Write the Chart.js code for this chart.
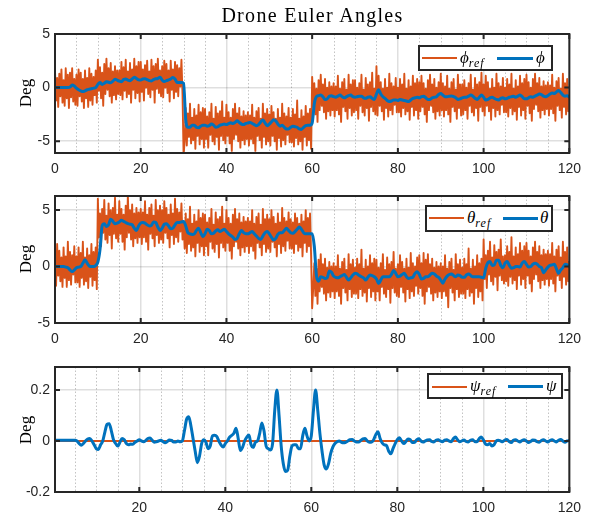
<!DOCTYPE html>
<html>
<head>
<meta charset="utf-8">
<script src="https://cdn.jsdelivr.net/npm/chart.js@4/dist/chart.umd.min.js"></script>
<style>
  html, body { margin: 0; padding: 0; background: #ffffff; }
  #fig { position: relative; width: 589px; height: 517px; overflow: hidden; background: #fff; }
  canvas { position: absolute; left: 0; }
  .serif { font-family: 'Liberation Serif', 'DejaVu Serif', serif; color: #000; position: absolute; white-space: nowrap; }
  .title { left: 55px; width: 515px; top: 4px; text-align: center; font-size: 20px; line-height: 22px; letter-spacing: 1.3px; }
  .ylab { font-size: 17px; line-height: 17px; transform: translate(-50%, -50%) rotate(-90deg); }
  .legbox { position: absolute; box-sizing: border-box; border: 2px solid #262626; background: #fff; }
  .lline { position: absolute; }
  .ltxt { font-family: 'Liberation Serif', 'DejaVu Serif', serif; font-style: italic; font-size: 17px; line-height: 17px; position: absolute; white-space: nowrap; color: #000; }
  .ltxt sub { font-size: 12px; vertical-align: -4px; letter-spacing: 1px; }
</style>
</head>
<body>
<div id="fig">
  <canvas id="c1" width="589" height="180" style="top:0px"></canvas>
  <canvas id="c2" width="589" height="170" style="top:180px"></canvas>
  <canvas id="c3" width="589" height="167" style="top:350px"></canvas>

  <div class="serif title">Drone Euler Angles</div>
  <div class="serif ylab" style="left:25px; top:93px">Deg</div>
  <div class="serif ylab" style="left:25px; top:259px">Deg</div>
  <div class="serif ylab" style="left:25px; top:430px">Deg</div>

  <div class="legbox" style="left:418px; top:45px; width:135px; height:26px"></div>
  <div class="lline" style="left:422px; top:57px; width:35px; height:2px; background:#D95319"></div>
  <div class="ltxt" style="left:460px; top:49px">&#981;<sub>ref</sub></div>
  <div class="lline" style="left:497px; top:56.5px; width:36px; height:3px; background:#0072BD"></div>
  <div class="ltxt" style="left:536px; top:49px">&#981;</div>

  <div class="legbox" style="left:425px; top:205px; width:128px; height:27px"></div>
  <div class="lline" style="left:429px; top:217px; width:35px; height:2px; background:#D95319"></div>
  <div class="ltxt" style="left:467px; top:209px">&theta;<sub>ref</sub></div>
  <div class="lline" style="left:503px; top:216.5px; width:35px; height:3px; background:#0072BD"></div>
  <div class="ltxt" style="left:540px; top:209px">&theta;</div>

  <div class="legbox" style="left:427px; top:373px; width:136px; height:26px"></div>
  <div class="lline" style="left:432px; top:385.5px; width:35px; height:2px; background:#D95319"></div>
  <div class="ltxt" style="left:470px; top:377px">&psi;<sub>ref</sub></div>
  <div class="lline" style="left:508px; top:385px; width:35px; height:3px; background:#0072BD"></div>
  <div class="ltxt" style="left:546px; top:377px">&psi;</div>
</div>

<script>
// ---------------- DATA ----------------
// reference signals sampled every 0.25 s, responses every 0.5 s (t = 0 ... 120 s)
const REF_STEP = 0.25;
const MAIN_STEP = 0.5;

const phiRef = [
  1.6, -1.2, 0.9, -1.8, 1.3, -0.8, 1.7, -1.4, 0.7, -1.7, 1.8, -1.0, 1.2, -1.9, 1.4, -0.9, 1.8, -1.3, 0.8, -1.6,
  1.2, -1.7, 1.7, -0.8, 1.4, -1.3, 0.8, -1.9, 1.6, -1.0, 0.9, -1.8, 1.8, -1.2, 1.3, -1.6, 1.0, -0.7, 1.6, -1.4,
  2.6, -0.3, 1.9, -1.0, 1.4, -1.7, 2.2, -0.6, 2.7, -0.2, 1.8, -0.8, 2.3, -1.4, 1.5, -0.7, 2.0, -1.1, 1.6, -0.6,
  1.6, -0.7, 2.4, -1.1, 1.9, -0.3, 2.6, -0.9, 1.5, -0.6, 2.3, -1.4, 1.7, -0.2, 2.7, -1.0, 2.0, -0.5, 2.4, -1.3,
  2.4, -0.4, 1.7, -1.2, 2.1, 0.0, 2.5, -0.6, 1.5, -0.9, 2.6, -0.2, 2.0, -1.4, 2.2, -0.1, 2.7, -0.5, 1.6, -0.8,
  2.0, -0.9, 2.5, 0.0, 2.2, -0.5, 1.6, -1.3, 2.5, -0.2, 1.7, -1.0, 2.4, -0.4, 2.1, -0.8, 1.8, 0.1, 2.6, -0.6,
  -6.3, -5.0, -1.9, -5.4, -2.4, -4.6, -1.5, -5.2, -2.8, -4.9, -2.0, -5.7, -2.6, -4.5, -1.6, -5.3, -2.3, -4.8, -1.9, -5.6,
  -2.0, -4.8, -2.7, -5.6, -2.3, -4.4, -1.5, -5.0, -2.9, -5.3, -1.8, -4.6, -2.4, -5.8, -2.2, -4.5, -1.3, -4.9, -2.8, -5.2,
  -1.6, -4.5, -2.3, -5.2, -2.8, -5.9, -2.0, -4.8, -1.5, -4.4, -2.4, -5.0, -1.9, -5.6, -2.7, -4.9, -2.2, -5.3, -2.6, -4.8,
  -2.3, -5.4, -2.6, -4.8, -1.6, -5.2, -2.8, -5.9, -2.2, -4.5, -1.9, -4.9, -2.9, -5.6, -1.5, -4.6, -2.4, -5.3, -2.0, -5.0,
  -2.5, -5.4, -1.7, -4.5, -2.3, -5.0, -2.9, -5.8, -2.0, -4.7, -2.8, -5.5, -1.5, -4.9, -2.4, -5.3, -2.7, -4.4, -1.9, -5.1,
  -2.8, -5.1, -2.0, -5.5, -2.5, -4.7, -1.2, -5.3, -2.9, -5.0, -2.1, -5.8, -2.7, -4.6, -1.7, -5.4, -2.4, -4.9, -2.0, -5.7,
  1.0, -1.8, 0.4, -2.5, -0.1, -3.2, 0.7, -2.1, 1.2, -1.7, 0.3, -2.3, 0.8, -2.9, 0.0, -2.2, 0.5, -2.6, 0.1, -2.1,
  0.4, -2.7, 0.1, -2.1, 1.1, -2.5, -0.1, -3.2, 0.5, -1.8, 0.8, -2.2, -0.2, -2.9, 1.2, -1.9, 0.3, -2.6, 0.7, -2.3,
  0.7, -2.1, 0.0, -2.9, 0.4, -1.7, 1.2, -2.3, -0.2, -2.6, 0.9, -1.9, 0.3, -3.1, 0.5, -1.8, 1.4, -2.2, -0.1, -2.5,
  2.0, -2.6, 1.1, -1.7, 0.5, -2.2, -0.1, -3.0, 0.8, -1.9, 0.0, -2.7, 1.3, -2.1, 0.4, -2.5, 0.1, -1.6, 0.9, -2.3,
  0.0, -2.3, 0.8, -2.7, 0.3, -1.9, 1.3, -2.5, -0.1, -2.2, 0.7, -3.0, 0.1, -1.8, 1.1, -2.6, 0.4, -2.1, 0.8, -2.9,
  0.5, -2.2, 1.1, -1.8, 0.4, -2.5, -0.1, -3.2, 0.7, -2.1, 1.2, -1.7, 0.3, -2.3, 0.8, -2.9, 0.0, -2.2, 0.5, -2.6,
  1.3, -2.1, 0.4, -2.7, 0.1, -2.1, 1.1, -2.5, -0.1, -3.2, 0.5, -1.8, 0.8, -2.2, -0.2, -2.9, 1.2, -1.9, 0.3, -2.6,
  0.3, -2.5, 0.7, -2.1, 0.0, -2.9, 0.4, -1.7, 1.2, -2.3, -0.2, -2.6, 0.9, -1.9, 0.3, -3.1, 0.5, -1.8, 1.4, -2.2,
  0.3, -2.6, 1.1, -1.7, 0.5, -2.2, -0.1, -3.0, 0.8, -1.9, 0.0, -2.7, 1.3, -2.1, 0.4, -2.5, 0.1, -1.6, 0.9, -2.3,
  0.0, -2.3, 0.8, -2.7, 0.3, -1.9, 1.3, -2.5, -0.1, -2.2, 0.7, -3.0, 0.1, -1.8, 1.1, -2.6, 0.4, -2.1, 0.8, -2.9,
  1.2, -1.7, 0.5, -2.4, 0.0, -3.1, 0.8, -2.0, 1.3, -1.6, 0.4, -2.2, 0.9, -2.8, 0.1, -2.1, 0.6, -2.5, 0.2, -2.0,
  0.5, -2.6, 0.2, -2.0, 1.2, -2.4, 0.0, -3.1, 0.6, -1.7, 0.9, -2.1, -0.1, -2.8, 1.3, -1.8, 0.4, -2.5, 0.8, -2.2,
  -0.9
];

const phi = [
  0, 0, 0, 0, 0, 0, 0, 0.05, 0.25, 0.15,
  -0.05, -0.2, -0.3, -0.37, -0.3, -0.2, -0.15, -0.1, -0.05, 0.0,
  0.3, 0.47, 0.3, 0.4, 0.55, 0.5, 0.45, 0.6, 0.78, 0.7,
  0.6, 0.55, 0.75, 0.8, 0.7, 0.65, 0.8, 0.97, 0.85, 0.72,
  0.7, 0.8, 0.82, 0.75, 0.65, 0.62, 0.75, 0.82, 0.85, 0.97,
  0.7, 0.56, 0.65, 0.72, 0.8, 0.95, 0.8, 0.48, 0.47, 0.47,
  0.4, -3.0, -3.7, -3.7, -3.5, -3.5, -3.7, -3.75, -3.6, -3.5,
  -3.5, -3.6, -3.55, -3.4, -3.5, -3.7, -3.65, -3.5, -3.45, -3.4,
  -3.45, -3.35, -3.28, -3.35, -3.25, -3.1, -3.25, -3.4, -3.45, -3.35,
  -3.3, -3.25, -3.35, -3.45, -3.55, -3.45, -3.2, -3.03, -3.3, -3.55,
  -3.4, -3.2, -3.0, -3.1, -3.4, -3.6, -3.5, -3.7, -3.85, -3.85,
  -3.7, -3.6, -3.65, -3.7, -3.85, -3.9, -3.7, -3.55, -3.5, -3.5,
  -3.3, -1.5, -0.84, -0.75, -0.7, -0.85, -1.1, -1.05, -0.8, -0.75,
  -0.85, -0.9, -0.8, -0.7, -0.85, -0.95, -0.85, -0.75, -0.7, -0.85,
  -0.9, -0.85, -0.8, -0.8, -0.95, -1.0, -0.9, -0.85, -1.0, -1.1,
  -0.6, -0.2, -0.6, -0.85, -1.0, -1.2, -1.3, -1.25, -1.15, -1.15,
  -1.2, -1.1, -1.15, -1.2, -1.25, -1.3, -1.15, -1.0, -0.95, -0.9,
  -0.95, -0.85, -0.8, -0.95, -1.1, -1.1, -0.95, -0.9, -0.85, -0.65,
  -0.55, -0.7, -0.85, -0.85, -0.8, -0.78, -0.85, -0.95, -1.1, -1.05,
  -0.95, -0.9, -0.9, -0.8, -0.7, -0.8, -1.0, -1.1, -0.9, -0.7,
  -0.9, -1.15, -1.1, -0.95, -0.9, -1.0, -1.1, -1.15, -1.0, -0.95,
  -1.05, -1.0, -0.9, -0.85, -0.8, -0.9, -0.8, -0.7, -0.85, -1.05,
  -1.05, -0.95, -0.85, -0.9, -0.8, -0.7, -0.6, -0.65, -0.8, -0.85,
  -0.75, -0.6, -0.5, -0.55, -0.4, -0.28, -0.45, -0.7, -0.8, -0.75,
  -0.9
];

const thetaRef = [
  1.2, -1.7, 2.0, -0.8, 1.4, -1.3, 0.8, -1.8, 1.7, -1.0, 0.9, -1.8, 2.2, -1.2, 1.3, -1.6, 1.0, -0.7, 1.8, -1.4,
  0.9, -1.4, 1.7, -1.8, 1.2, -1.0, 2.2, -1.6, 0.8, -1.3, 1.6, -1.9, 1.0, -0.9, 2.0, -1.7, 1.3, -1.2, 1.7, -2.0,
  6.0, 2.6, 4.7, 1.8, 5.1, 3.0, 5.9, 2.4, 4.5, 2.1, 5.6, 2.8, 5.0, 1.6, 5.2, 2.9, 6.1, 2.5, 4.6, 2.2,
  5.8, 2.9, 5.1, 2.2, 4.6, 1.5, 5.4, 2.6, 6.3, 3.0, 5.0, 2.4, 5.5, 1.8, 4.7, 2.5, 5.2, 2.1, 4.8, 2.6,
  5.1, 2.0, 4.8, 2.6, 5.8, 2.2, 4.6, 1.5, 5.2, 2.9, 5.5, 2.5, 4.5, 1.8, 5.9, 2.8, 5.0, 2.1, 5.4, 2.4,
  5.0, 2.1, 5.8, 3.0, 5.2, 2.5, 4.6, 1.7, 5.5, 2.8, 4.7, 2.0, 6.0, 2.6, 5.1, 2.2, 4.8, 3.1, 5.6, 2.4,
  3.9, 1.6, 4.7, 1.2, 4.2, 2.0, 5.3, 1.4, 3.8, 1.7, 4.6, 0.9, 4.0, 2.1, 5.0, 1.3, 4.3, 1.8, 4.7, 1.0,
  4.6, 1.8, 3.9, 1.0, 4.3, 2.2, 5.1, 1.6, 3.7, 1.3, 4.8, 2.0, 4.2, 0.8, 4.4, 2.1, 5.3, 1.7, 3.8, 1.4,
  5.0, 2.1, 4.3, 1.4, 3.8, 0.7, 4.6, 1.8, 5.1, 2.2, 4.2, 1.6, 4.7, 1.0, 3.9, 1.7, 4.4, 1.3, 4.0, 1.8,
  4.3, 1.2, 4.0, 1.8, 5.0, 1.4, 3.8, 0.7, 4.4, 2.1, 4.7, 1.7, 3.7, 1.0, 5.1, 2.0, 4.2, 1.3, 4.6, 1.6,
  4.2, 1.3, 5.0, 2.2, 4.4, 1.7, 3.8, 0.9, 4.7, 2.0, 3.9, 1.2, 5.2, 1.8, 4.3, 1.4, 4.0, 2.3, 4.8, 1.6,
  4.2, 1.6, 3.9, 1.2, 4.7, 2.0, 4.3, 1.4, 3.8, 1.7, 4.6, 0.9, 4.0, 2.1, 5.0, 1.3, 4.3, 1.8, 4.7, 1.0,
  -3.7, -1.9, 0.3, -2.6, -0.2, -3.3, 0.6, -2.2, 1.1, -1.8, 0.2, -2.4, 0.7, -3.0, -0.1, -2.3, 0.4, -2.7, 0.0, -2.2,
  0.3, -2.8, 0.0, -2.2, 1.0, -2.6, -0.2, -3.3, 0.4, -1.9, 0.7, -2.3, -0.3, -3.0, 1.1, -2.0, 0.2, -2.7, 0.6, -2.4,
  -0.1, -2.4, 0.7, -2.8, 0.2, -2.0, 1.5, -2.6, -0.2, -2.3, 0.6, -3.1, 0.0, -1.9, 1.0, -2.7, 0.3, -2.2, 0.7, -3.0,
  0.6, -2.2, -0.1, -3.0, 0.3, -1.8, 1.1, -2.4, -0.3, -2.7, 0.8, -2.0, 0.2, -3.2, 0.4, -1.9, 1.3, -2.3, -0.2, -2.6,
  0.2, -2.7, 1.0, -1.8, 0.4, -2.3, -0.2, -3.1, 0.7, -2.0, -0.1, -2.8, 1.2, -2.2, 0.3, -2.6, 0.0, -1.7, 0.8, -2.4,
  1.0, -1.9, 0.3, -2.6, 1.2, -3.3, 0.6, -2.2, 1.1, -1.8, 0.2, -2.4, 0.7, -3.0, -0.1, -2.3, 0.4, -2.7, 0.0, -2.2,
  0.3, -2.8, 0.0, -2.2, 1.0, -2.6, -0.2, -3.6, 0.4, -1.9, 0.7, -2.3, -0.3, -3.0, 1.1, -2.0, 0.2, -2.7, 0.6, -2.4,
  -0.1, -2.4, 0.7, -2.8, 0.2, -2.0, 1.6, -2.6, -0.2, -2.3, 0.6, -3.3, 0.0, -1.9, 1.0, -2.7, 0.3, -2.2, 0.7, -3.0,
  2.4, -1.1, 1.0, -1.9, 1.4, -0.7, 2.2, -1.3, 0.8, -1.6, 1.9, -0.9, 1.3, -2.1, 1.5, -0.8, 2.4, -1.2, 0.9, -1.5,
  1.0, -1.3, 1.8, -1.7, 1.3, -0.9, 2.6, -1.5, 0.9, -1.2, 1.7, -2.0, 1.1, -0.8, 2.1, -1.6, 1.4, -1.1, 1.8, -1.9,
  2.1, -0.8, 1.4, -1.5, 0.9, -2.2, 1.7, -1.1, 2.2, -0.7, 1.3, -1.3, 1.8, -1.9, 1.0, -1.2, 1.5, -1.6, 1.1, -1.1,
  1.4, -1.7, 1.1, -1.1, 2.1, -1.5, 0.9, -2.2, 1.5, -0.8, 1.8, -1.2, 0.8, -1.9, 2.2, -0.9, 1.3, -1.6, 1.7, -1.3,
  0.5
];

const theta = [
  0, 0, 0, 0, 0, -0.05, -0.1, -0.3, -0.44, -0.3,
  -0.1, -0.05, 0, 0.3, 0.6, 0.3, 0.05, 0, 0, 0.1,
  0.4, 1.5, 3.6, 3.8, 3.55, 3.7, 4.2, 4.0, 3.8, 3.85,
  3.95, 4.1, 4.0, 3.9, 3.8, 3.75, 3.7, 3.4, 3.2, 3.6,
  3.85, 3.9, 3.85, 3.7, 3.6, 3.65, 3.95, 3.9, 3.5, 3.2,
  3.4, 3.75, 3.8, 3.6, 3.35, 3.4, 3.7, 3.9, 3.9, 3.95,
  4.0, 3.6, 3.0, 2.9, 2.85, 2.9, 3.2, 3.4, 3.0, 2.65,
  2.9, 3.3, 3.2, 2.9, 2.95, 3.15, 3.25, 3.1, 3.2, 3.3,
  3.1, 2.9, 2.75, 2.6, 2.4, 2.5, 2.9, 3.2, 3.0, 2.9,
  2.9, 3.0, 3.1, 2.9, 2.7, 2.5, 2.4, 2.7, 3.0, 3.1,
  2.9, 2.6, 2.35, 2.5, 2.85, 3.0, 3.0, 3.2, 3.4, 3.2,
  3.0, 2.95, 3.1, 3.3, 3.5, 3.3, 3.0, 2.9, 2.9, 2.9,
  2.9, 1.8, -0.8, -1.3, -0.9, -0.95, -1.05, -1.0, -0.4, -0.5,
  -0.85, -0.95, -1.0, -0.9, -0.8, -0.7, -0.95, -1.2, -1.0, -0.75,
  -0.6, -0.65, -0.8, -0.9, -1.0, -1.2, -0.95, -0.75, -0.8, -0.9,
  -1.1, -1.5, -1.2, -0.9, -0.9, -0.9, -0.9, -0.7, -0.35, -0.6,
  -0.9, -0.85, -0.7, -0.6, -0.9, -1.05, -1.0, -0.95, -0.6, -0.45,
  -0.7, -1.1, -1.05, -0.9, -0.9, -0.75, -0.6, -0.65, -0.85, -0.95,
  -1.2, -1.47, -1.1, -0.85, -0.7, -0.65, -0.8, -0.9, -0.75, -0.8,
  -0.95, -0.95, -0.75, -0.65, -0.8, -0.9, -0.9, -0.9, -0.9, -0.95,
  -1.0, -0.15, 0.35, 0.44, 0.1, 0.15, 0.55, 0.55, 0.1, -0.1,
  0.3, 0.45, 0.1, -0.15, -0.1, 0.0, 0.0, -0.05, 0.3, 0.45,
  0.2, -0.05, 0.0, 0.2, 0.3, 0.2, 0.0, -0.1, -0.55, -0.3,
  -0.05, 0.1, 0.15, 0.2, -0.2, -0.6, -0.3, -0.1, 0.2, 0.15,
  0.0
];

const psiRefTime = [0, 120];
const psiRef = [0, 0];

const psi = [
  0.003, 0.003, 0.003, 0.003, 0.003, 0.003, 0.003, 0.003, 0.003, 0.003,
  0.003, 0.0, -0.01, -0.017, -0.01, 0.0, 0.008, 0.01, 0.0, -0.015,
  -0.03, -0.033, -0.015, 0.0, 0.035, 0.065, 0.068, 0.04, 0.005, -0.01,
  -0.02, -0.005, 0.01, 0.005, -0.01, -0.015, -0.012, -0.013, -0.005, 0.0,
  0.005, 0.0, -0.003, 0.002, 0.01, 0.012, 0.003, -0.005, -0.003, 0.0,
  0.003, -0.002, -0.007, -0.002, 0.004, 0.002, -0.004, -0.004, 0.0, -0.003,
  0.0, 0.04, 0.085, 0.095, 0.06, 0.01, -0.04, -0.085, -0.06, -0.01,
  0.005, -0.005, -0.03, -0.02, 0.02, 0.022, 0.018, 0.0, -0.015, -0.024,
  -0.01, 0.0, 0.015, 0.022, 0.03, 0.05, 0.01, -0.037, -0.025, 0.0,
  0.015, 0.023, -0.015, -0.025, -0.005, 0.0, 0.03, 0.07, 0.04, -0.02,
  -0.03, -0.035, -0.01, 0.12, 0.2, 0.1, -0.02, -0.09, -0.12, -0.115,
  -0.06, -0.02, -0.015, -0.015, -0.03, -0.03, 0.02, 0.05, 0.02, 0.0,
  0.02, 0.12, 0.2, 0.12, 0.03, -0.04, -0.095, -0.11, -0.09, -0.05,
  -0.024, -0.01, -0.003, 0.0, -0.005, -0.007, -0.005, 0.0, 0.005, 0.006,
  0.0, -0.004, -0.004, 0.002, 0.008, 0.01, 0.0, -0.005, -0.004, 0.005,
  0.025, 0.036, 0.01, -0.008, -0.015, -0.018, -0.04, -0.05, -0.03, -0.01,
  0.005, 0.013, 0.0, -0.01, -0.002, 0.008, 0.005, -0.006, -0.005, 0.004,
  0.009, 0.0, -0.004, 0.0, 0.004, 0.005, -0.002, -0.004, 0.003, 0.005,
  0.0, -0.003, 0.003, 0.005, 0.0, -0.003, 0.008, 0.016, 0.005, -0.003,
  0.0, 0.004, -0.002, -0.004, 0.003, 0.005, -0.002, -0.003, 0.008, 0.016,
  0.005, -0.012, -0.015, -0.01, -0.02, -0.015, 0.0, 0.003, 0.0, -0.003,
  0.004, 0.006, -0.002, -0.006, 0.003, 0.005, 0.0, -0.004, 0.002, 0.005,
  0.0, -0.006, -0.002, 0.004, 0.003, -0.003, -0.005, 0.002, 0.005, 0.0,
  -0.004, 0.002, 0.005, 0.0, -0.004, 0.003, 0.006, 0.0, -0.005, 0.0,
  0.002
];

// tick values
const xTicksFull = [0, 20, 40, 60, 80, 100, 120];
const xTicksPsi = [20, 40, 60, 80, 100, 120];
const yTicksAngle = [-5, 0, 5];
const yTicksPsi = [-0.2, 0, 0.2];

// ---------------- RENDERING ----------------
const refTime = phiRef.map((_, i) => i * REF_STEP);
const mainTime = phi.map((_, i) => i * MAIN_STEP);
const pts = (vals, t) => vals.map((v, i) => ({ x: t[i], y: v }));

const ORANGE = '#D95319';
const BLUE = '#0072BD';
const AXIS = '#262626';
const GRID = 'rgba(38,38,38,0.15)';

const matlabAxes = {
  id: 'matlabAxes',
  beforeDatasetsDraw(chart) {
    const { ctx, chartArea: a, scales: { x } } = chart;
    ctx.save();
    ctx.strokeStyle = 'rgba(38,38,38,0.28)';
    ctx.lineWidth = 1;
    ctx.setLineDash([1.5, 2]);
    for (let v = Math.ceil(x.min / 5) * 5; v < x.max; v += 5) {
      if (v % 20 === 0) continue;
      const px = Math.round(x.getPixelForValue(v)) + 0.5;
      ctx.beginPath();
      ctx.moveTo(px, a.top);
      ctx.lineTo(px, a.bottom);
      ctx.stroke();
    }
    ctx.restore();
  },
  afterDatasetsDraw(chart) {
    const { ctx, chartArea: a, scales: { x, y } } = chart;
    ctx.save();
    ctx.strokeStyle = AXIS;
    ctx.lineWidth = 2;
    ctx.setLineDash([]);
    const L = 5;
    x.ticks.forEach(t => {
      const px = x.getPixelForValue(t.value);
      ctx.beginPath();
      ctx.moveTo(px, a.bottom); ctx.lineTo(px, a.bottom - L);
      ctx.moveTo(px, a.top); ctx.lineTo(px, a.top + L);
      ctx.stroke();
    });
    y.ticks.forEach(t => {
      const py = y.getPixelForValue(t.value);
      ctx.beginPath();
      ctx.moveTo(a.left, py); ctx.lineTo(a.left + L, py);
      ctx.moveTo(a.right, py); ctx.lineTo(a.right - L, py);
      ctx.stroke();
    });
    ctx.strokeRect(a.left, a.top, a.right - a.left, a.bottom - a.top);
    ctx.restore();
  }
};

function makeChart(id, c) {
  const tickFont = { family: "'Liberation Sans', Arial, sans-serif", size: 14 };
  return new Chart(document.getElementById(id), {
    type: 'line',
    data: {
      datasets: [
        { data: c.main, borderColor: BLUE, borderWidth: 3, pointRadius: 0,
          cubicInterpolationMode: 'monotone', order: 0 },
        { data: c.ref, borderColor: ORANGE, borderWidth: c.refWidth, pointRadius: 0,
          tension: 0, borderJoinStyle: 'round', order: 1 }
      ]
    },
    options: {
      responsive: false,
      animation: false,
      devicePixelRatio: 1,
      layout: { padding: { top: c.padTop, right: 19, left: 0, bottom: 0 } },
      plugins: { legend: { display: false }, tooltip: { enabled: false }, title: { display: false } },
      scales: {
        x: {
          type: 'linear', min: c.xMin, max: 120,
          afterBuildTicks: s => { s.ticks = c.xTicks.map(v => ({ value: v })); },
          afterFit: s => { s.height = c.xAxisH; },
          grid: { color: GRID, lineWidth: 1.5, drawTicks: false },
          border: { display: false },
          ticks: { color: AXIS, font: tickFont, padding: 8, maxRotation: 0, autoSkip: false,
                   callback: v => String(v) }
        },
        y: {
          type: 'linear', min: c.yMin, max: c.yMax,
          afterBuildTicks: s => { s.ticks = c.yTicks.map(v => ({ value: v })); },
          afterFit: s => { s.width = 55; },
          grid: { color: GRID, lineWidth: 1.5, drawTicks: false },
          border: { display: false },
          ticks: { color: AXIS, font: tickFont, padding: 5, autoSkip: false,
                   callback: v => String(v) }
        }
      }
    },
    plugins: [matlabAxes]
  });
}

makeChart('c1', {
  main: pts(phi, mainTime), ref: pts(phiRef, refTime), refWidth: 1.9,
  xMin: 0, xTicks: xTicksFull, yMin: -6.1, yMax: 5, yTicks: yTicksAngle,
  padTop: 34, xAxisH: 27
});
makeChart('c2', {
  main: pts(theta, mainTime), ref: pts(thetaRef, refTime), refWidth: 1.9,
  xMin: 0, xTicks: xTicksFull, yMin: -5, yMax: 6.25, yTicks: yTicksAngle,
  padTop: 16, xAxisH: 27
});
makeChart('c3', {
  main: pts(psi, mainTime), ref: pts(psiRef, psiRefTime), refWidth: 2,
  xMin: 0.4, xTicks: xTicksPsi, yMin: -0.2, yMax: 0.29, yTicks: yTicksPsi,
  padTop: 17, xAxisH: 25
});
</script>
</body>
</html>
